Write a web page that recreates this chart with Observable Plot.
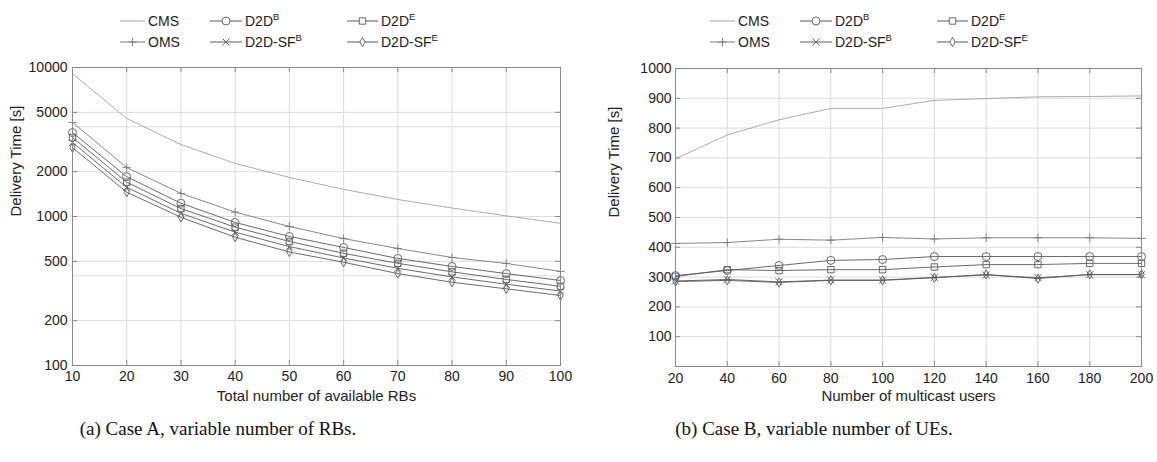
<!DOCTYPE html>
<html><head><meta charset="utf-8">
<script src="https://cdn.jsdelivr.net/npm/d3@7"></script>
<script src="https://cdn.jsdelivr.net/npm/@observablehq/plot@0.6"></script>
<style>
body{margin:0;background:#fff;}
#wrap{position:relative;width:1157px;height:462px;overflow:hidden;font-family:"Liberation Sans",Arial,sans-serif;background:#fff;}
.panel{position:absolute;top:0;}
.leg{position:absolute;font-size:14px;color:#222;display:flex;align-items:center;white-space:nowrap;transform:translateY(-50%);}
.leg svg{display:block;margin-right:3px;}
.leg sup{font-size:9.5px;vertical-align:0;position:relative;top:-6px;}
.cap{position:absolute;top:418px;font-family:"Liberation Serif","Times New Roman",serif;font-size:19px;color:#111;transform:translateX(-50%);white-space:nowrap;}
</style>
</head><body>
<div id="wrap"></div>
<script>
// ---------- data ----------
const seriesNames = ["CMS", "OMS", "D2D<sup>B</sup>", "D2D<sup>E</sup>", "D2D-SF<sup>B</sup>", "D2D-SF<sup>E</sup>"];

// Case A: variable number of RBs
const rbs   = [10, 20, 30, 40, 50, 60, 70, 80, 90, 100];
const aCMS  = [9100, 4550, 3040, 2270, 1830, 1520, 1300, 1140, 1010, 900];
const aOMS  = [4280, 2130, 1430, 1070, 857, 711, 610, 531, 484, 428];
const aD2DB = [3660, 1850, 1228, 912, 735, 620, 523, 462, 414, 372];
const aD2DE = [3390, 1700, 1130, 848, 680, 566, 485, 425, 378, 340];
const aSFB  = [3140, 1570, 1050, 785, 628, 527, 449, 393, 351, 316];
const aSFE  = [2900, 1455, 988, 726, 578, 493, 414, 362, 327, 295];
const aYTicks = [100, 200, 500, 1000, 2000, 5000, 10000];
const aYGrid  = [200, 400, 500, 1000, 2000, 4000, 5000];
const aXTicks = [10, 20, 30, 40, 50, 60, 70, 80, 90, 100];

// Case B: variable number of UEs
const ues   = [20, 40, 60, 80, 100, 120, 140, 160, 180, 200];
const bCMS  = [697, 777, 828, 866, 866, 893, 899, 905, 906, 908];
const bOMS  = [413, 416, 427, 424, 433, 428, 432, 432, 432, 430];
const bD2DB = [305, 322, 339, 356, 359, 369, 369, 369, 369, 369];
const bD2DE = [302, 325, 322, 325, 325, 334, 342, 342, 346, 346];
const bSFB  = [287, 292, 284, 290, 290, 299, 307, 298, 308, 308];
const bSFE  = [285, 289, 282, 289, 289, 298, 309, 295, 309, 309];
const bYTicks = [100, 200, 300, 400, 500, 600, 700, 800, 900, 1000];
const bXTicks = [20, 40, 60, 80, 100, 120, 140, 160, 180, 200];

// ---------- styles ----------
const seriesSymbols = [null, "plus", "circle", "square", "times", "diamond"];
const seriesColors  = ["#a3a3a3", "#7a7a7a", "#5a5a5a", "#5a5a5a", "#5a5a5a", "#5a5a5a"];
const seriesR       = [0, 2.8, 4, 3.6, 3.3, 2.8];
const gridColor = "#dcdcdc";
const axisColor = "#8a8a8a";

function makePanel(o) {
  const plotW = o.width - o.mL - o.mR, plotH = o.height - o.mT - o.mB;
  const marks = [
    Plot.ruleY(o.yGrid, {stroke: gridColor}),
    Plot.ruleX(o.xGrid, {stroke: gridColor}),
    Plot.tickY(o.yTicks, {insetRight: plotW - 5, stroke: axisColor}),
    Plot.tickY(o.yTicks, {insetLeft: plotW - 5, stroke: axisColor}),
    Plot.tickX(o.xTicks, {insetTop: plotH - 5, stroke: axisColor}),
    Plot.tickX(o.xTicks, {insetBottom: plotH - 5, stroke: axisColor}),
    Plot.axisX({ticks: o.xTicks, tickSize: 0, tickPadding: o.xPad, label: null, tickFormat: d => String(d)}),
    Plot.axisY({ticks: o.yTicks, tickSize: 0, tickPadding: o.yPad, label: null, tickFormat: d => String(d)})
  ];
  o.ys.forEach((vals, k) => {
    const data = o.xs.map((x, i) => ({x, y: vals[i]}));
    marks.push(Plot.line(data, {x: "x", y: "y", stroke: seriesColors[k], strokeWidth: 0.9}));
    if (seriesSymbols[k]) marks.push(Plot.dot(data, {x: "x", y: "y", symbol: seriesSymbols[k], r: seriesR[k], stroke: seriesColors[k], fill: "none", strokeWidth: 0.9}));
  });
  marks.push(Plot.frame({stroke: axisColor}));
  marks.push(Plot.text([o.xLabel], {frameAnchor: "bottom", dy: o.xLabelDy, text: d => d, fontSize: 15, fill: "#222"}));
  marks.push(Plot.text([o.yLabel], {frameAnchor: "left", rotate: -90, dx: -o.yLabelDx, text: d => d, fontSize: 15, fill: "#222"}));
  return Plot.plot({
    width: o.width, height: o.height,
    marginLeft: o.mL, marginRight: o.mR, marginTop: o.mT, marginBottom: o.mB,
    x: {domain: o.xDomain},
    y: o.yScale,
    style: {fontFamily: "'Liberation Sans', Arial, sans-serif", fontSize: "14px", color: "#222", background: "white", overflow: "visible"},
    marks
  });
}

const wrap = document.getElementById("wrap");

const left = makePanel({
  xs: rbs, ys: [aCMS, aOMS, aD2DB, aD2DE, aSFB, aSFE],
  xDomain: [10, 100], yScale: {type: "log", domain: [100, 10000]},
  yTicks: aYTicks, yGrid: aYGrid, xTicks: aXTicks, xGrid: aXTicks.slice(1, -1),
  width: 580, height: 420, mL: 72, mR: 20, mT: 67, mB: 55,
  xPad: 6, yPad: 5,
  xLabel: "Total number of available RBs", yLabel: "Delivery Time [s]",
  xLabelDy: 35, yLabelDx: 56
});
left.classList.add("panel"); left.style.left = "0px";
wrap.appendChild(left);

const right = makePanel({
  xs: ues, ys: [bCMS, bOMS, bD2DB, bD2DE, bSFB, bSFE],
  xDomain: [20, 200], yScale: {domain: [0, 1000]},
  yTicks: bYTicks, yGrid: bYTicks.slice(0, -1), xTicks: bXTicks, xGrid: bXTicks.slice(1, -1),
  width: 577, height: 420, mL: 95, mR: 16, mT: 68, mB: 54,
  xPad: 7, yPad: 4,
  xLabel: "Number of multicast users", yLabel: "Delivery Time [s]",
  xLabelDy: 34, yLabelDx: 61
});
right.classList.add("panel"); right.style.left = "580px";
wrap.appendChild(right);

// ---------- legends ----------
const symFns = {plus: d3.symbolPlus, circle: d3.symbolCircle, square: d3.symbolSquare, times: d3.symbolTimes, diamond: d3.symbolDiamond};
function legendItem(k, x, y, len) {
  const div = document.createElement("div");
  div.className = "leg";
  div.style.left = x + "px"; div.style.top = y + "px";
  const svg = d3.create("svg").attr("width", len).attr("height", 14);
  svg.append("line").attr("x1", 0).attr("x2", len).attr("y1", 7).attr("y2", 7).attr("stroke", seriesColors[k]).attr("stroke-width", 1);
  if (seriesSymbols[k]) {
    const r = seriesR[k];
    svg.append("path").attr("d", d3.symbol(symFns[seriesSymbols[k]], Math.PI * r * r)())
      .attr("transform", `translate(${len / 2},7)`).attr("fill", "white").attr("stroke", seriesColors[k]).attr("stroke-width", 0.9);
  }
  div.appendChild(svg.node());
  const span = document.createElement("span");
  span.innerHTML = seriesNames[k];
  div.appendChild(span);
  wrap.appendChild(div);
}
function legend(x0) {
  const cols = [[x0, 25], [x0 + 90, 32], [x0 + 227, 31]];
  const rows = [21, 42];
  const order = [[0, 0, 0], [2, 1, 0], [3, 2, 0], [1, 0, 1], [4, 1, 1], [5, 2, 1]];
  order.forEach(([k, c, r]) => legendItem(k, cols[c][0], rows[r], cols[c][1]));
}
legend(120);
legend(710);

// ---------- captions ----------
function caption(text, cx) {
  const d = document.createElement("div");
  d.className = "cap"; d.style.left = cx + "px"; d.textContent = text;
  wrap.appendChild(d);
}
caption("(a) Case A, variable number of RBs.", 218);
caption("(b) Case B, variable number of UEs.", 814);
</script>
</body></html>
